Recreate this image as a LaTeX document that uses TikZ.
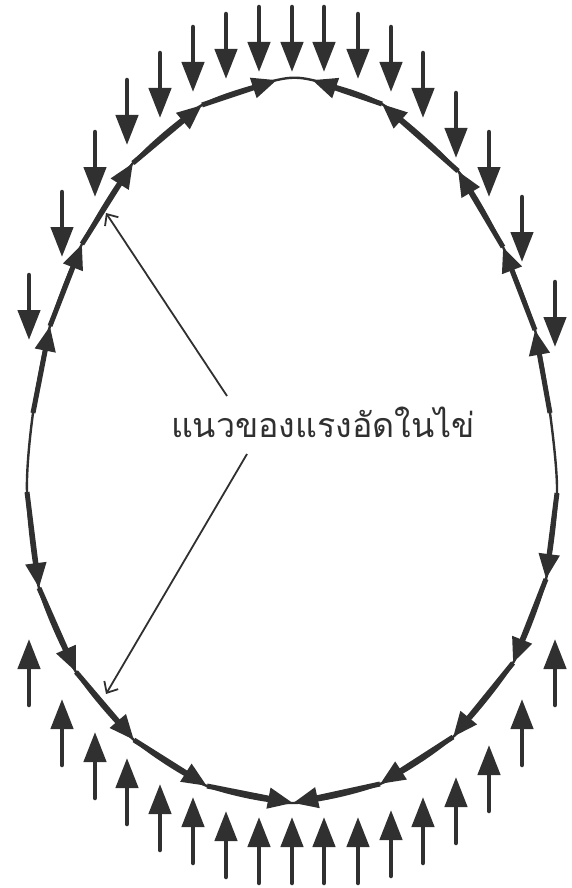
\documentclass[tikz,border=0pt]{standalone}
\usepackage{fontspec}
\newfontfamily\thaifont[Script=Thai]{Loma}
\usetikzlibrary{arrows.meta}
\definecolor{ink}{HTML}{303030}

\tikzset{
  eggline/.style={draw=ink, line width=2.4pt, line join=round},
  edgearr/.style={draw=ink, line width=5pt, -{Triangle[length=25pt,width=20pt]}},
  pushdn/.style={draw=ink, line width=4.5pt, line cap=round, -{Triangle[length=30pt,width=22pt]}},
  pushup/.style={pushdn},
  pointer/.style={draw=ink, line width=1.8pt, -{Straight Barb[length=9pt,width=16pt]}}
}

\begin{document}
\begin{tikzpicture}[x=1pt,y=-1pt]
  \useasboundingbox (0,0) rectangle (571,888);

  % upper half of the shell
  \coordinate (ul0) at (33,413);
  \coordinate (ul1) at (50,326);
  \coordinate (ul2) at (82,244);
  \coordinate (ul3) at (133,163);
  \coordinate (ul4) at (202,105);
  \coordinate (ul5) at (277,80);
  \coordinate (ur0) at (550,413);
  \coordinate (ur1) at (535,330);
  \coordinate (ur2) at (503,247);
  \coordinate (ur3) at (458,171);
  \coordinate (ur4) at (382,104);
  \coordinate (ur5) at (312,80);

  % lower half of the shell
  \coordinate (ll0) at (27,492);
  \coordinate (ll1) at (39,588);
  \coordinate (ll2) at (76,672);
  \coordinate (ll3) at (134,740);
  \coordinate (ll4) at (207,786);
  \coordinate (lr0) at (557,493);
  \coordinate (lr1) at (546,579);
  \coordinate (lr2) at (513,663);
  \coordinate (lr3) at (453,737);
  \coordinate (lr4) at (380,784);
  \coordinate (bot) at (293,803);

  \draw[eggline] plot[smooth cycle, tension=0.45] coordinates {(ul5) (ul4) (ul3) (ul2) (ul1) (ul0)
    (ll0) (ll1) (ll2) (ll3) (ll4) (bot) (lr4) (lr3) (lr2) (lr1) (lr0)
    (ur0) (ur1) (ur2) (ur3) (ur4) (ur5)};

  % thrust along the shell
  \foreach \i/\j in {0/1,1/2,2/3,3/4,4/5} {
    \draw[edgearr] (ul\i) -- (ul\j);
    \draw[edgearr] (ur\i) -- (ur\j);
  }
  \foreach \i/\j in {0/1,1/2,2/3,3/4} {
    \draw[edgearr] (ll\i) -- (ll\j);
    \draw[edgearr] (lr\i) -- (lr\j);
  }
  \draw[edgearr] (ll4) -- (bot);
  \draw[edgearr] (lr4) -- (bot);

  % outside load
  \foreach \x/\y in {29/340,62/257,95/197,127/145,160/118,193/92,226/79,259/72,292/72,
                     324/72,358/79,391/92,423/118,456/158,489/197,522/262,555/347}
    \draw[pushdn] (\x,\y-65) -- (\x,\y);
  \foreach \x/\y in {29/639,62/699,95/732,127/758,160/784,193/797,226/811,259/817,292/817,
                     324/817,358/817,391/810,423/797,456/777,489/745,522/699,555/639}
    \draw[pushup] (\x,\y+66) -- (\x,\y);

  \node[font=\thaifont\fontsize{34}{40}\selectfont, text=ink, inner sep=0pt, anchor=base]
    (lbl) at (323,437) {แนวของแรงอัดในไข่};

  \coordinate (s1) at (227,396);
  \coordinate (t1) at (106,213);
  \coordinate (s2) at (247,454);
  \coordinate (t2) at (106,694);
  \draw[pointer] (s1) -- (t1);
  \draw[pointer] (s2) -- (t2);
\end{tikzpicture}
\end{document}
